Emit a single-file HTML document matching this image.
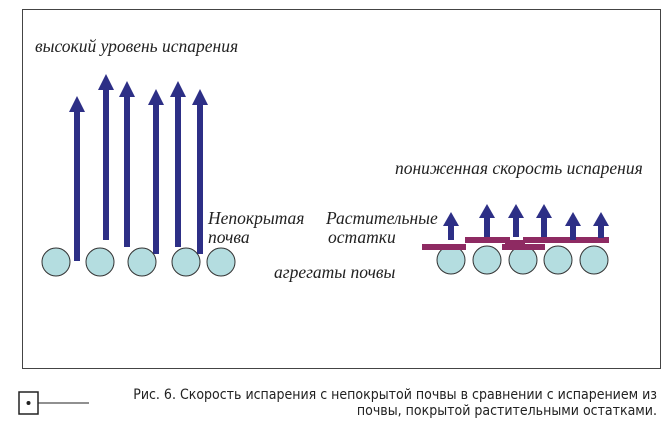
<!DOCTYPE html><html><head><style>
body{margin:0;background:#fff;width:670px;height:431px;overflow:hidden;position:relative;font-family:"Liberation Serif",serif}
.t{position:absolute;font-style:italic;font-size:17.5px;color:#222;white-space:nowrap;line-height:19px}
.c{position:absolute;font-family:"DejaVu Sans Condensed","Liberation Sans",sans-serif;font-size:14px;color:#222;text-align:right;right:13px;line-height:16px}
</style></head><body>
<svg width="670" height="431" style="position:absolute;left:0;top:0">
<rect x="22.5" y="9.5" width="638" height="359" fill="none" stroke="#444" stroke-width="1"/>
<g fill="#2d2f86">
<rect x="74" y="110" width="6" height="151"/><polygon points="69,112 85,112 77,96"/>
<rect x="103" y="88" width="6" height="152"/><polygon points="98,90 114,90 106,74"/>
<rect x="124" y="95" width="6" height="152"/><polygon points="119,97 135,97 127,81"/>
<rect x="153" y="103" width="6" height="151"/><polygon points="148,105 164,105 156,89"/>
<rect x="175" y="95" width="6" height="152"/><polygon points="170,97 186,97 178,81"/>
<rect x="197" y="103" width="6" height="151"/><polygon points="192,105 208,105 200,89"/>
</g>
<g fill="#b4dde0" stroke="#333" stroke-width="1">
<circle cx="56" cy="262" r="14"/><circle cx="100" cy="262" r="14"/><circle cx="142" cy="262" r="14"/><circle cx="186" cy="262" r="14"/><circle cx="221" cy="262" r="14"/>
<circle cx="451" cy="260" r="14"/><circle cx="487" cy="260" r="14"/><circle cx="523" cy="260" r="14"/><circle cx="558" cy="260" r="14"/><circle cx="594" cy="260" r="14"/>
</g>
<g fill="#8e2a62">
<rect x="422" y="244" width="44" height="6"/><rect x="465" y="237" width="45" height="6"/><rect x="502" y="244" width="43" height="6"/><rect x="523" y="237" width="86" height="6"/><rect x="505" y="240" width="20" height="6"/>
</g>
<g fill="#2d2f86">
<rect x="448" y="224" width="6" height="16"/><polygon points="443,226 459,226 451,212"/>
<rect x="484" y="216" width="6" height="21"/><polygon points="479,218 495,218 487,204"/>
<rect x="513" y="216" width="6" height="21"/><polygon points="508,218 524,218 516,204"/>
<rect x="541" y="216" width="6" height="21"/><polygon points="536,218 552,218 544,204"/>
<rect x="570" y="224" width="6" height="16"/><polygon points="565,226 581,226 573,212"/>
<rect x="598" y="224" width="6" height="14"/><polygon points="593,226 609,226 601,212"/>
</g>
<rect x="19" y="392" width="19" height="22" fill="#fff" stroke="#222" stroke-width="1.5"/>
<circle cx="28.5" cy="403" r="2" fill="#222"/>
<line x1="38" y1="403" x2="89" y2="403" stroke="#222" stroke-width="1"/>
</svg>
<div class="t" style="left:35px;top:37px">высокий уровень испарения</div>
<div class="t" style="left:208px;top:209px">Непокрытая<br>почва</div>
<div class="t" style="left:326px;top:209px">Растительные<br><span style="padding-left:2px">остатки</span></div>
<div class="t" style="left:274px;top:263px">агрегаты почвы</div>
<div class="t" style="left:395px;top:159px">пониженная скорость испарения</div>
<div class="c" style="top:387px">Рис. 6. Скорость испарения с непокрытой почвы в сравнении с испарением из<br>почвы, покрытой растительными остатками.</div>
</body></html>
